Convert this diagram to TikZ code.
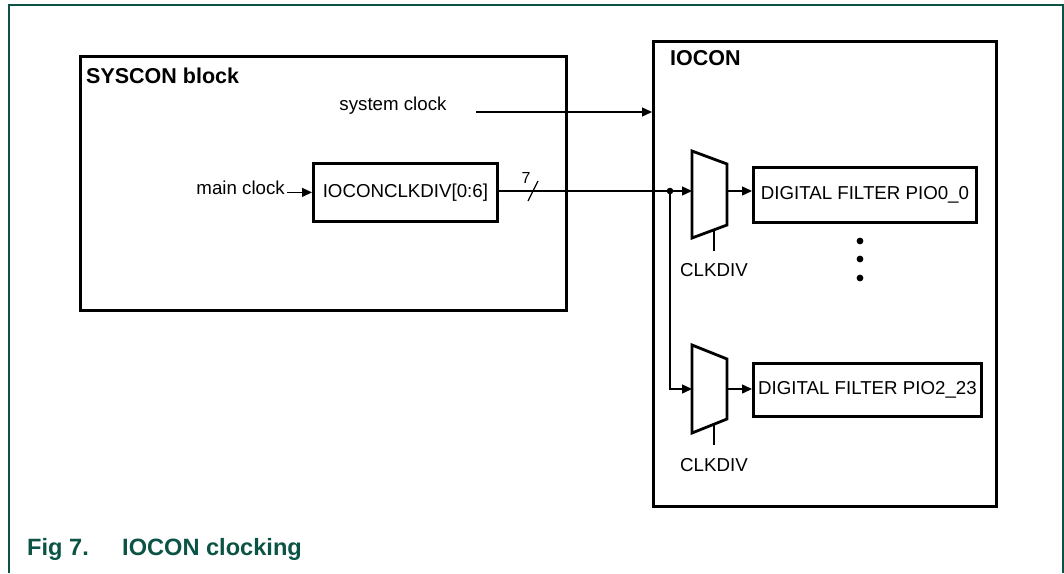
\documentclass[tikz,border=0pt]{standalone}
\usepackage{fontspec}
\setmainfont{Liberation Sans}
\usetikzlibrary{arrows.meta}
\definecolor{nxpgreen}{HTML}{0B5345}
\begin{document}
\begin{tikzpicture}[x=1pt,y=-1pt,
  blockbox/.style={draw, line width=2.8pt, inner sep=0pt, anchor=north west},
  conn/.style={line width=1.3pt, -{Triangle[length=10pt,width=9pt]}},
  wire/.style={line width=1.3pt},
  lbl/.style={font=\fontsize{18.7}{22}\selectfont, inner sep=0pt},
  ttl/.style={font=\fontsize{21.5}{25}\selectfont\bfseries, inner sep=0pt},
  captiontext/.style={font=\fontsize{23.6}{28}\selectfont\bfseries, text=nxpgreen, inner sep=0pt, anchor=west},
  muxshape/.style={line width=2.8pt, line join=miter},
]
\useasboundingbox (0,0) rectangle (1064,573);
% outer frame
\draw[nxpgreen, line width=1.5pt] (9,573) -- (9,5) -- (1063,5) -- (1063,573);

% main blocks
\node[blockbox, minimum width=486pt, minimum height=254pt] (syscon) at (79,55) {};
\node[ttl, anchor=west] (sysconlbl) at (86,76) {SYSCON block};
\node[blockbox, minimum width=343pt, minimum height=465pt] (iocon) at (652,40) {};
\node[ttl, anchor=west] (ioconlbl) at (670,58) {IOCON};

% system clock
\node[lbl] (sysclk) at (393,106) {system clock};
\coordinate (sysstart) at (476,112);
\draw[conn] (sysstart) -- (iocon.west |- sysstart);

% divider
\node[blockbox, minimum width=184pt, minimum height=58pt] (div) at (312,162) {};
\node[lbl] (divlbl) at (div.center) {IOCONCLKDIV[0:6]};
\node[lbl, anchor=east] (mainclk) at (285,188) {main clock};
\draw[conn] (mainclk.east |- div.west) ++(2,0) -- (div.west);

% muxes
\draw[muxshape] (692,151) -- (727,164) -- (727,225) -- (692,238) -- cycle;
\coordinate (mux1in) at (692,191);
\coordinate (mux1out) at (727,191);
\coordinate (sel1) at (714,230);
\coordinate (sel1end) at (714,251);
\draw[muxshape] (692,345) -- (727,359) -- (727,419) -- (692,433) -- cycle;
\coordinate (mux2in) at (692,389);
\coordinate (mux2out) at (727,389);
\coordinate (sel2) at (714,425);
\coordinate (sel2end) at (714,445);

% bus
\coordinate (junc) at (670,191);
\draw[conn] (div.east |- mux1in) -- (mux1in);
\fill (junc) circle (3.3pt);
\draw[conn] (junc) |- (mux2in);
\coordinate (slashA) at (528,201);
\coordinate (slashB) at (538,181);
\draw[wire] (slashA) -- (slashB);
\node[lbl, font=\fontsize{16}{18}\selectfont] (buswidth) at (526,178) {7};

% filters
\node[blockbox, minimum width=223pt, minimum height=55pt] (f1) at (752,166) {};
\node[lbl] (f1lbl) at (f1.center) {DIGITAL FILTER PIO0\_0};
\node[blockbox, minimum width=228pt, minimum height=53pt] (f2) at (752,362) {};
\node[lbl] (f2lbl) at (f2.center) {DIGITAL FILTER PIO2\_23};
\draw[conn] (mux1out) -- (mux1out -| f1.west);
\draw[conn] (mux2out) -- (mux2out -| f2.west);

% select lines
\draw[wire] (sel1) -- (sel1end);
\node[lbl] (clkdiv1) at (714,270) {CLKDIV};
\draw[wire] (sel2) -- (sel2end);
\node[lbl] (clkdiv2) at (714,465) {CLKDIV};

% ellipsis dots
\fill (860,241) circle (3.4pt);
\fill (860,259) circle (3.4pt);
\fill (860,278) circle (3.4pt);

% caption
\node[captiontext] (fig) at (27,549) {Fig 7.};
\node[captiontext] (figtitle) at (122,549) {IOCON clocking};
\end{tikzpicture}
\end{document}
